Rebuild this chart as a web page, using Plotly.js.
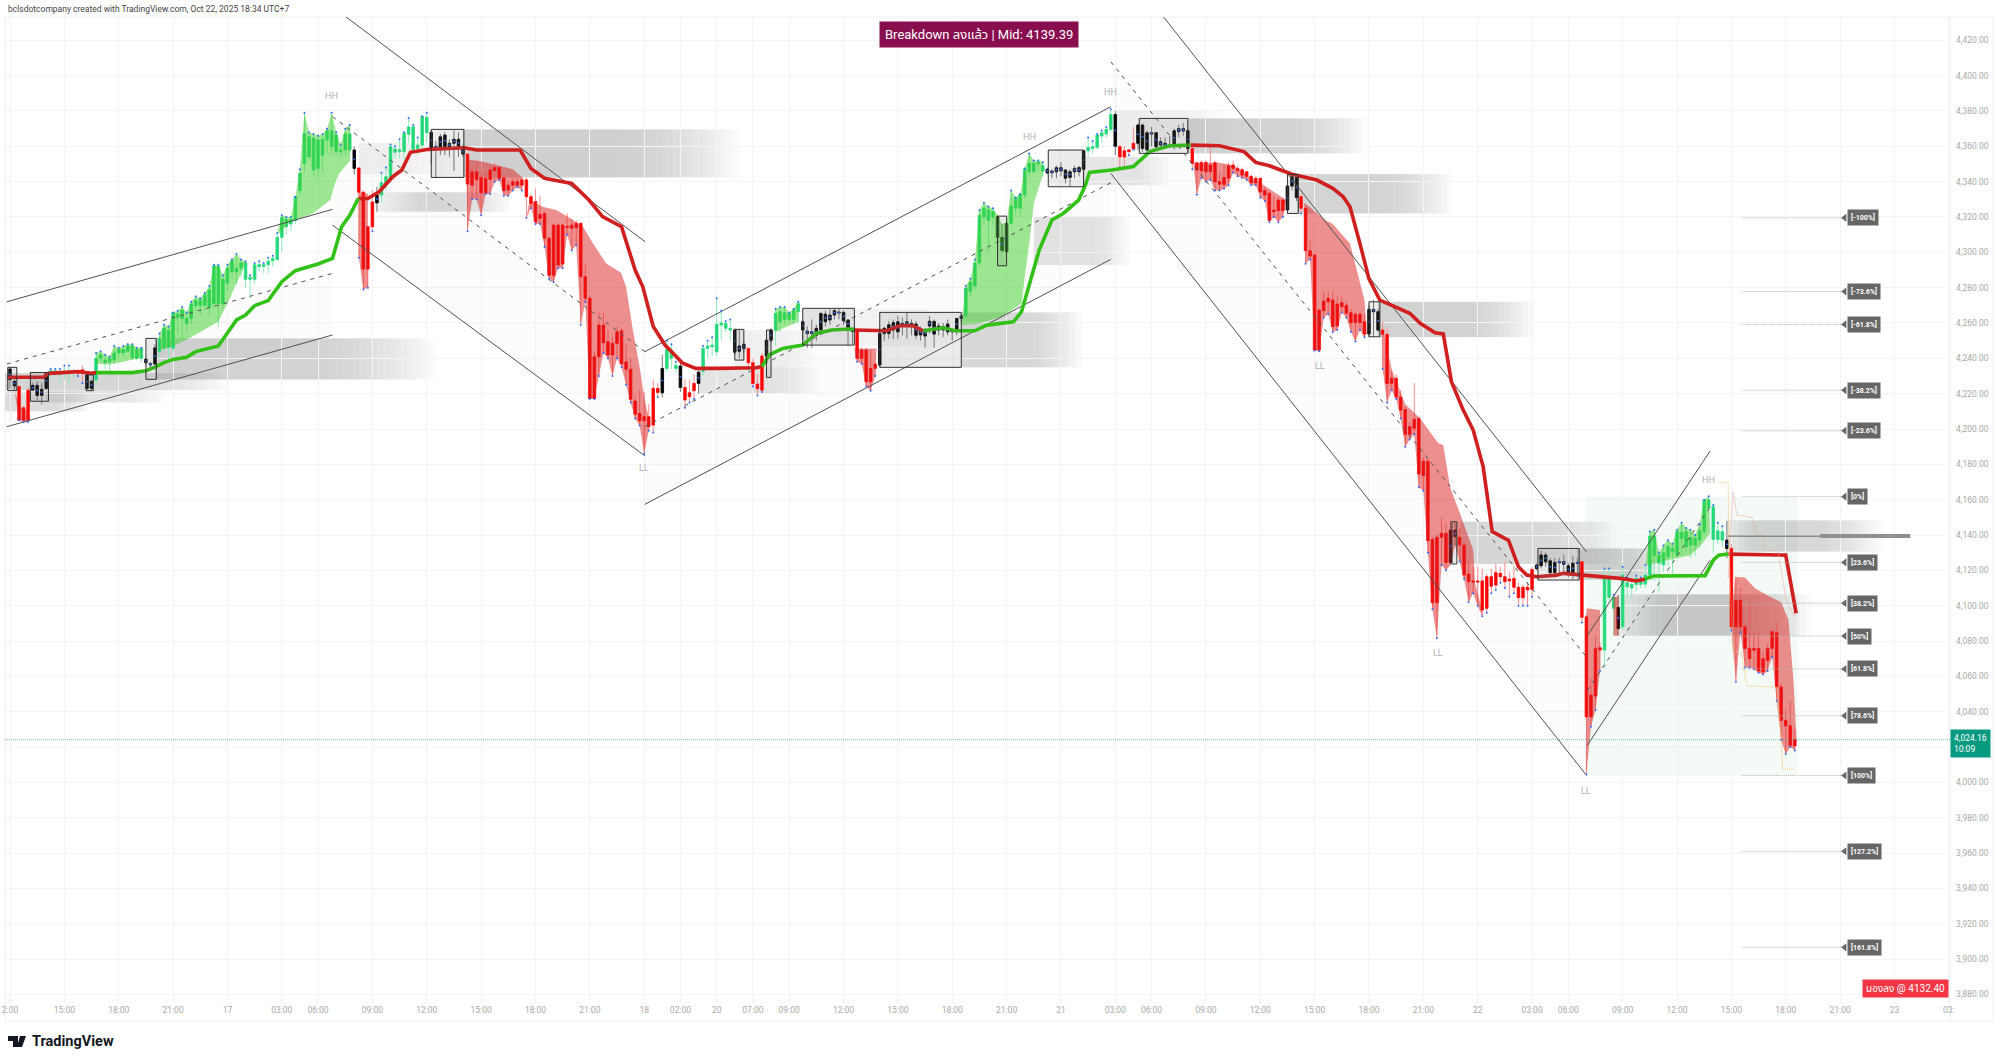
<!DOCTYPE html>
<html><head><meta charset="utf-8">
<script src="https://cdn.plot.ly/plotly-3.0.1.min.js"></script>
<style>html,body{margin:0;padding:0;background:#fff}#c{width:2000px;height:1060px}</style></head>
<body><div id="c"></div>
<script>
const g='g',r='r',k='k';
// rows: kind, body top, body bottom, high, low (15-minute bars)
const barsA=[[k,4234,4228,4235,4223],[k,4227,4224.4,4230,4222],[r,4224,4205,4224.5,4205],[r,4212,4205,4213,4204],[r,4222,4205,4223,4204],[k,4224.7,4222,4226,4222],[k,4224.7,4219,4227,4216],[k,4222.5,4219,4226,4214],[k,4231.5,4223,4232,4222],[g,4233,4232,4234,4228],
[g,4233,4232,4234,4230],[g,4232,4231,4234,4226],[g,4232.5,4232,4236,4228],[g,4232.5,4232,4236,4225],[g,4232.5,4232,4233,4229],[r,4233,4231.5,4233,4230],[r,4233.5,4231.5,4236,4226],[k,4230.7,4223,4231,4222],[k,4227,4223,4228,4221.5],[g,4240,4227.7,4243,4225],
[g,4241.9,4240,4244,4238],[g,4239,4237.6,4242,4234],[g,4240,4238,4241,4231],[g,4243,4239,4247,4237],[g,4245,4243,4246,4240],[g,4245,4243,4247,4241],[g,4247,4244,4248,4243],[g,4247,4240.6,4248,4239],[g,4245,4240,4246,4239],[g,4245.5,4240,4246,4238],
[k,4239.5,4237.6,4240,4236],[k,4237,4236.4,4238,4234],[k,4245.9,4236.8,4248,4235],[g,4251.3,4243.8,4254,4240],[g,4257,4245.7,4259,4243],[g,4255.7,4246.2,4258,4238],[g,4265.8,4245.7,4266,4244],[g,4265,4263,4267,4254],[g,4267.3,4262.6,4269,4251],[g,4262.6,4259.8,4266,4255],
[g,4270.8,4262.6,4272,4259],[g,4272.6,4269.8,4275,4267],[g,4273,4269.8,4274,4264],[g,4275.9,4270,4277,4267],[g,4278.7,4269,4281,4264],[g,4292.3,4271,4293,4268],[g,4292,4271.1,4293,4258],[g,4284.7,4271,4287,4268],[g,4291,4282.5,4293,4278],[g,4295.3,4289,4296,4285]];
const barsB=[[g,4291,4289,4299,4282],[g,4294,4291,4296,4286],[g,4294,4284.7,4295,4280],[g,4285.9,4284.7,4287,4274],[g,4293,4284.7,4294,4282],[g,4293,4292,4295,4289],[g,4293,4292,4294,4288],[g,4295,4293,4297,4288],[g,4296.6,4295.3,4298,4292],[g,4308.5,4296,4311,4295],
[g,4319.8,4308.5,4321,4300],[g,4318.6,4314.5,4320,4310],[g,4318.6,4316,4320,4312],[g,4331.5,4317.9,4331.5,4316],[g,4344.7,4334.9,4347,4333],[g,4367.3,4350.3,4379,4345],[g,4365.4,4354,4368,4352],[g,4364.5,4346.6,4367,4343],[g,4363.6,4347.5,4366,4342],[g,4364,4355,4367,4345],
[g,4368.8,4363.6,4370,4356],[g,4368.8,4359.8,4379,4355],[g,4366.4,4357,4368,4355],[g,4358,4357,4361,4354],[g,4367,4358,4370,4355],[g,4367,4358,4372,4356],[k,4357.9,4347.5,4360,4344],[r,4347.7,4334,4348,4297],[r,4334,4290.5,4335,4279],[r,4314.5,4290.5,4315,4280],
[r,4328.5,4314.5,4335,4312],[k,4332.4,4328,4337,4323],[g,4339.4,4332.4,4345,4328],[g,4342.8,4339,4348,4335],[g,4359.8,4342.4,4361,4340],[g,4358.5,4356.6,4360,4353],[g,4358,4357,4364,4353],[g,4367.3,4357,4368,4352],[g,4371,4366.8,4376,4362],[g,4371,4358.3,4372,4356],
[g,4360.7,4358.8,4365,4355],[g,4376.8,4360.7,4377,4358],[g,4376.4,4367.7,4379,4362],[k,4367.9,4358.8,4369,4350],[k,4360,4359.4,4363,4342],[k,4365.4,4359.8,4367,4355],[k,4366.4,4359.8,4368,4355],[k,4361.7,4359.8,4364,4354],[k,4364,4361.7,4369,4346],[k,4364,4359.8,4368,4354]];
const barsC=[[k,4358.3,4355.6,4361,4354],[r,4355.6,4338.7,4356,4312],[r,4345.6,4338,4349,4330],[r,4345.6,4341,4352,4330],[r,4342.4,4333.7,4345,4321],[r,4341.9,4333.7,4345,4333],[r,4346.6,4341.3,4349,4333],[r,4348,4346.2,4351,4340],[r,4348,4341.9,4349,4341],[r,4342.2,4334.9,4343,4332],
[r,4338,4335.3,4340,4332],[r,4340,4338,4342,4335],[r,4340,4338,4342,4337],[r,4341,4338,4343,4335],[r,4341,4331.5,4342,4319.6],[r,4331.5,4327.7,4333,4325],[r,4328.7,4317.3,4336,4316],[r,4321.5,4319.2,4332,4316],[r,4322,4308,4323,4303],[r,4308,4287,4309,4285],
[r,4315.4,4287,4316,4283],[r,4315.4,4292.8,4316,4291],[r,4315.4,4293.4,4316,4291],[r,4314.7,4314,4322,4310],[r,4315.4,4313.6,4319,4301],[r,4316.4,4313.9,4318,4304],[r,4316.4,4286.2,4317,4259],[r,4286.2,4274,4294,4272],[r,4274,4217.3,4276,4217],[r,4240.9,4217.3,4244,4217],
[r,4258.8,4240.9,4266,4230],[r,4258.8,4248.8,4266,4243],[r,4249.4,4241.9,4256,4240],[r,4248.5,4241.9,4252,4230],[r,4255,4248.5,4258,4240],[r,4255.6,4237,4257,4235],[r,4238,4233.8,4248,4225],[r,4233.8,4216.8,4240,4215],[r,4215.8,4208.4,4219,4206],[r,4208.8,4204.7,4222,4202],
[r,4207,4204.7,4221,4186],[r,4207,4201.3,4214,4199],[r,4223,4202.2,4228,4198],[r,4223,4220.7,4226,4218],[k,4234.3,4220.5,4242,4218],[g,4245,4234.3,4250,4232],[g,4244.7,4240,4248,4234],[g,4236,4234.3,4238,4232],[k,4235.6,4223.5,4238,4221],[r,4223.5,4216.4,4228,4212]];
const barsD=[[r,4220.5,4218.3,4228,4215],[r,4225.8,4221.7,4231,4217],[k,4232.2,4225.8,4233,4220],[g,4245.6,4232.6,4247,4230],[g,4247,4245.6,4250,4240],[g,4247.5,4246.6,4252,4241],[g,4259.2,4243.7,4274,4241],[g,4260,4258.8,4267,4250],[g,4259.8,4257,4261,4255],[g,4257,4256,4262,4250],
[k,4256,4243.5,4257,4242],[k,4247,4244,4256,4240],[k,4247.9,4245.6,4249,4243],[r,4245.6,4237.5,4246,4234],[r,4237.5,4225.8,4240,4224],[r,4225.4,4222.8,4231,4219],[r,4241.3,4222,4243,4221],[k,4250.3,4241.3,4251,4230],[k,4256,4250.3,4257,4249],[g,4265.4,4256,4268,4247],
[g,4266.4,4260.7,4269,4255],[g,4265.8,4262,4269,4259],[g,4265.4,4262,4266,4260],[g,4267.3,4262,4268,4259],[g,4271,4266.4,4272,4260],[k,4260.7,4256,4262,4250],[k,4255.4,4254,4258,4246],[k,4255,4254,4262,4246],[k,4257,4253,4259,4250],[k,4265.4,4256,4266,4254],
[k,4265,4260.7,4267,4258],[k,4264.5,4261.7,4268,4259],[k,4267,4264.5,4268,4262],[k,4266.2,4265.8,4268,4262],[k,4266,4261.3,4267,4259],[k,4261.7,4257.5,4262,4247],[k,4256.4,4255.2,4257,4248],[r,4255.4,4240,4256,4238],[r,4244.7,4240,4246,4237],[r,4244.7,4226.8,4246,4224],
[r,4234.3,4226.8,4245,4221.7],[r,4236.6,4234.3,4238,4230],[k,4254,4236.2,4255,4235],[k,4257,4254,4258,4250],[k,4259,4254,4261,4251],[k,4260.2,4256,4262,4251],[k,4260.7,4255,4264,4251],[k,4259.8,4258.5,4263,4253],[k,4260.7,4258.8,4266,4251],[k,4259.8,4258.6,4262,4253]];
const barsE=[[k,4259.4,4253,4261,4251],[k,4256.4,4253.2,4258,4250],[k,4256,4252.6,4257,4246],[k,4261,4258.3,4264,4254],[k,4260.9,4253.7,4262,4246],[k,4258.3,4256,4260,4253],[k,4258,4256,4260,4252],[k,4259.4,4255,4262,4253],[k,4256,4255,4257,4250],[k,4262.6,4256,4263,4253],
[k,4264,4262.6,4265,4260],[g,4279.6,4264,4281,4262],[g,4283,4278,4285,4275],[g,4294,4281,4296,4279],[g,4321,4294,4324,4292],[g,4325,4320,4328,4316],[g,4324,4318,4326,4300],[g,4323,4320,4325,4315],[k,4320.1,4308.5,4321,4298],[k,4308.5,4301,4316,4300],
[k,4316.4,4300.4,4317,4299],[g,4326.2,4316.4,4335,4315],[g,4330.5,4325,4331,4320],[g,4332.8,4325,4333,4320],[g,4347,4332.4,4347.5,4330],[g,4350.4,4345.6,4356,4342],[g,4350.4,4345.6,4352,4344],[g,4351,4350,4352,4345],[g,4349,4346,4351,4343],[k,4347,4345,4348,4344],
[k,4346,4345,4347,4342],[k,4347.9,4345.6,4349,4342],[k,4347.9,4346.2,4351,4343],[k,4346.6,4341.9,4347,4339],[k,4345.6,4342.4,4347,4337],[k,4347.5,4345.6,4349,4342],[k,4348,4345.6,4349,4343],[k,4357.5,4347,4358,4340],[g,4359.4,4357.5,4365,4354],[g,4359.8,4358.8,4363,4356],
[g,4366.4,4359.4,4367,4358],[g,4367.7,4365.8,4369,4362],[g,4369.6,4367,4371,4365],[g,4378,4369.6,4381,4368],[k,4378,4360,4380,4355],[r,4359.8,4354,4361,4348],[r,4357.5,4354,4360,4348],[r,4358,4357,4358,4355],[r,4361.7,4358.5,4371,4358],[k,4372,4361.7,4373,4358]];
const barsF=[[k,4372,4358.8,4373,4357],[k,4367.7,4358,4369,4356],[k,4367.7,4367,4371,4360],[k,4367.7,4359.8,4368,4358],[k,4362.6,4360.7,4365,4359],[k,4361.7,4360,4365,4359],[k,4360.7,4360,4366,4359],[k,4368.8,4360.7,4370,4358],[k,4370,4368.3,4372,4365],[k,4370,4368.7,4373,4366],
[k,4368.8,4358.8,4370,4356],[r,4358.8,4350.3,4360,4347],[r,4350.7,4346.6,4351,4332.6],[r,4350.9,4346.2,4352,4342],[r,4350.9,4345.6,4352,4340],[r,4349.4,4345.6,4360,4341],[r,4350.7,4340,4352,4335],[r,4340,4338.5,4345,4335],[r,4342.4,4338.5,4350,4336],[r,4349,4342,4351,4338],
[r,4349.4,4347.5,4352,4345],[r,4347.5,4346.2,4349,4343],[r,4346.8,4343.7,4348,4342],[r,4345.6,4343,4346,4341],[r,4343,4339.4,4344,4338],[r,4341.9,4339.4,4343,4338],[r,4341.9,4334.3,4342,4331],[r,4335,4332.4,4337,4329],[r,4333.4,4318,4334,4317],[r,4323.9,4323,4332,4320],
[r,4329.6,4323.6,4331,4317],[r,4329.6,4323.6,4331,4320],[k,4337.5,4324,4338,4322],[k,4342.8,4337.5,4344,4335],[k,4342.4,4331,4343,4329],[r,4331.5,4324.9,4333,4322],[r,4324.9,4300.9,4326,4293.5],[r,4300.9,4297.9,4307,4296],[r,4298.5,4244.7,4299,4244.5],[r,4267.3,4244.7,4268,4244],
[r,4272.4,4267,4278,4263],[r,4274,4272,4278,4265],[r,4273,4258,4278,4254.7],[r,4270.7,4258.3,4275,4256],[r,4271.5,4269.2,4275,4266],[r,4270,4265.5,4272,4263],[r,4265.8,4260.2,4268,4255],[r,4264.9,4260.2,4266,4249.5],[r,4264.9,4260.2,4266,4256],[r,4260.7,4253.8,4265,4252]];
const barsG=[[k,4267.7,4253.8,4270,4252],[k,4267.7,4266.4,4273,4252],[k,4266.4,4256,4268,4255],[r,4256,4253.6,4261,4234],[r,4253.6,4225.8,4258,4215],[r,4228.7,4225.8,4233,4222],[r,4228.7,4218,4231,4217],[r,4218,4210.7,4222,4206],[r,4211,4197,4213,4190],[r,4201.3,4197,4204,4194],
[r,4205.5,4200.4,4226,4197],[r,4206,4174.5,4207,4167],[r,4181.7,4173.6,4184,4165],[r,4181.7,4136.8,4183,4130],[r,4137.5,4101.7,4139,4098],[r,4138.7,4101.7,4140,4081.5],[r,4141,4138.7,4150,4123],[r,4141,4124.5,4147,4120],[k,4142.8,4124.5,4148,4123],[k,4142.8,4139,4147,4134],
[r,4138.7,4134.3,4144,4125],[r,4134.3,4117.3,4136,4115],[r,4117.9,4113.6,4125,4102],[r,4114,4113.4,4122,4107],[r,4114,4113.4,4122,4100],[r,4114,4097.5,4121,4094],[r,4116.4,4098.5,4118,4096],[r,4116.4,4111,4121,4107],[r,4118.7,4111.7,4124,4109],[r,4118.3,4116.4,4122,4113],
[r,4116.4,4113.6,4125,4110],[r,4115,4114,4119,4105],[r,4115.4,4110.4,4123,4107],[r,4110.4,4104.5,4113,4100],[r,4110.4,4104.5,4112,4100],[r,4110.4,4108.9,4113,4100],[r,4120.5,4109.2,4122,4105],[k,4123,4121,4124,4120],[k,4128.7,4122.6,4131,4121],[k,4128.7,4124.9,4130,4122],
[k,4125.4,4118.7,4127,4117],[k,4124.5,4118.7,4127,4116],[k,4124.9,4124.5,4127,4118],[k,4124.9,4123.4,4129,4119],[k,4122.6,4118.3,4124,4116],[k,4124,4118.3,4128,4115],[k,4124.5,4124,4127,4118],[r,4124.9,4093.4,4125,4090.5],[r,4093.7,4037.1,4095,4004.5],[r,4049.4,4037.1,4059,4031.5]];
const barsH=[[r,4075.8,4048.8,4083,4041],[r,4076.2,4074.9,4079,4063],[g,4116.4,4074.9,4121,4065],[g,4115.8,4104.7,4121,4101],[g,4104.7,4098.5,4106,4083],[k,4099,4087,4106,4083],[g,4117.3,4088,4122,4086],[g,4113,4110.7,4116,4104],[g,4112,4110,4114,4104],[g,4115.4,4112,4117,4108],
[g,4113.5,4112,4116,4110],[g,4117.3,4112.2,4123,4110],[g,4139.4,4117.3,4142,4116],[g,4139.4,4128.6,4143,4114],[g,4128.6,4124,4130,4108],[g,4130,4123,4134,4119],[g,4133.4,4127.7,4137,4122],[g,4132.4,4130.5,4135,4118],[g,4141.9,4128.6,4143,4127],[g,4141.5,4138,4147,4128],
[g,4141.9,4133.4,4144,4130],[g,4138.6,4134.3,4143,4127],[g,4138,4134.3,4140,4128],[g,4142.4,4137.1,4146,4134],[g,4159.8,4141.9,4160,4140],[g,4159.8,4155.6,4162,4152],[g,4156,4137.5,4157,4130],[g,4142.4,4137.5,4147,4135],[g,4141.9,4137.1,4145,4133],[k,4137.1,4132.4,4148,4127],
[r,4132.4,4088,4135,4086],[r,4103,4088,4115,4057],[r,4103,4088,4110,4085],[r,4088,4075.8,4090,4065],[r,4075.8,4070,4102,4065],[r,4075.8,4074.8,4084,4064],[r,4075.8,4063,4086,4062],[r,4070,4062.6,4074,4061],[r,4075.8,4069,4078,4063],[r,4085.3,4075.8,4087,4071],
[r,4084.7,4054,4091,4046],[r,4054,4035,4056,4024],[r,4035,4031.9,4041,4016],[r,4032,4021,4046,4020],[r,4024.16,4020.7,4030,4018]];

const trendRedA=[[-0.6,4229.3],[7.4,4229.3],[8.5,4231.5],[15,4232.5],[18,4231.5],[19,4231.9]];
const trendGreenA=[[19,4231.9],[27,4231.9],[30,4233],[32,4235],[34,4237.6],[36,4239.4],[39,4240.6],[41,4243.8],[46,4247],[48,4254],[50,4261.7],[52,4264.5],[54,4269.8],[57,4272.7],[60,4283.4],[63,4289.6],[68,4293.4],[71.2,4296.6],[73.2,4314.5],[75,4321],[76.9,4330.5]];
const trendRedB=[[76.9,4330.5],[79,4330.5],[81.5,4334.3],[84.5,4342.8],[86.5,4346.6],[88.4,4356.6],[92.4,4358.3],[100.3,4359.2],[103,4357.9],[112.6,4357.9],[115,4347.5],[118,4341.9],[124,4339],[127.8,4329.6],[130.8,4320.2],[135,4314.5],[138,4290],[139.7,4280.5],[142,4258],[144.6,4247.5],[148.5,4237.2],[151.4,4234.3],[156,4234.3],[164.7,4234.7],[166,4235.3]];
const trendGreenB=[[166,4235.3],[167.6,4241.9],[170.6,4245.6],[175,4247.5],[178,4254.1],[181.4,4256],[185.4,4256.6],[186.4,4256.4]];
const trendRedC=[[186.4,4256],[193.5,4255.6],[196.5,4258.4],[199.4,4258.4],[201.6,4255.6]];
const trendGreenC=[[201.6,4255.6],[206,4257.3],[208.6,4255.6],[213,4255.6],[215.6,4258.8],[221.5,4260.7],[223.3,4266.4],[225.3,4284.3],[227.2,4301.3],[230,4318.3],[232.5,4322],[235.9,4329.6],[237.4,4338],[238.3,4345.2],[243.2,4346.6],[248,4348.5],[251.6,4357],[256,4360.3],[260.6,4360.7]];
const trendRedD=[[260.6,4360.7],[267,4360.3],[272.4,4357],[275,4350.9],[278,4349],[283,4344.2],[288.5,4340.9],[292,4336.2],[294.3,4331.5],[295.8,4325.8],[298,4305],[300,4285],[302.4,4273],[309,4265.5],[311.3,4259.8],[314.6,4254.5],[316.4,4253.8],[318.2,4226.8],[320.8,4210.7],[323,4199.4],[325.2,4178.7],[327.2,4141.9],[330.8,4137],[333,4122],[334.8,4117.3],[337,4116.4],[341.4,4117.3],[342.9,4118.3],[347.3,4117.3],[352,4116.4],[356,4115.3],[359,4114],[360.9,4115]];
const trendGreenD=[[360.9,4115],[362.8,4116.8],[374.2,4117],[376,4125.8],[377.2,4128.6],[379.3,4129.2]];
const trendRedE=[[379.3,4129.2],[392,4128.6],[394.3,4095.6]];

const ribbonGreen=[[19,29,[[19,4237],[22,4236.5],[25,4238],[29,4240.5]]],
 [33,52,[[33,4244.7],[36,4247],[40,4252],[46,4260.8],[48,4271],[51,4288],[52,4294]]],
 [59,75,[[59.4,4310.8],[61.8,4317],[66.8,4322],[70.7,4329.6],[71.7,4339],[72.7,4344.7],[75.1,4352]]],
 [169,174,[[169,4255],[174,4260.7]]],
 [211,228,[[210,4258.8],[213.9,4259.7],[218.9,4263.6],[223.3,4271],[224,4286],[225,4305],[226,4327.7],[228,4343.7]]],
 [361,375,[[361.7,4123],[366,4125.8],[370.9,4128.6],[373,4133.4],[375.3,4141]]]];
const ribbonRed=[[1,4,[[1,4222],[2,4213],[3,4211],[4,4210]]],
 [77,79,[[77,4334],[78,4334],[79,4333]]],
 [101,113,[[100.7,4352.6],[103.7,4351.7],[107.4,4349.4],[111,4347],[113.2,4341.9]]],
 [114,141,[[114.7,4329.6],[117.6,4325.8],[120.6,4323.9],[124.3,4318.3],[126.5,4314.5],[128.7,4305],[131.6,4293.7],[134.9,4288.5],[136,4280.5],[137.5,4256],[139,4235],[140.1,4216.4],[141.2,4205]]],
 [187,191,[[186.4,4245.6],[191.3,4245.6]]],
 [262,281,[[261.2,4350.3],[266.4,4350.9],[270,4349.4],[273,4343.7],[277.4,4337],[281.7,4329.6]]],
 [286,299,[[285.7,4328],[290.5,4318],[292,4316],[295.8,4305],[299,4273],[299.5,4254]]],
 [303,325,[[303,4258],[305,4234],[308,4214],[311.3,4206],[315.3,4192],[316.4,4191],[317.9,4167],[320.1,4152],[323,4131.5],[323.4,4113],[325,4097]]],
 [348,351,[[348,4098.5],[351,4097.5]]],
 [354,355,[[354,4105],[355,4105]]],
 [380,394,[[380.8,4116.4],[383,4116],[385.2,4109.8],[388.5,4105],[391,4102],[392.6,4091.9],[393.7,4057.9],[394.4,4024]]]];

const channelX=[[-0.7,71.2],[71.2,140.2],[140.1,243],[243,348],[348.2,375.3]];
const channelUpper=[[4272,4324.3],[4439,4306],[4243.7,4382.4],[4471,4130.5],[4083,4187.5]];
const channelMid=[[4236.8,4288.1],[4376.8,4243.7],[4201.3,4339.4],[4407.9,4071],[4052,4156]];
const channelLower=[[4201.3,4253.2],[4315.4,4184.7],[4157.3,4296],[4344.7,4004],[4021,4125.7]];

const boxStart=[-0.5,4.5,16.8,30,93,160,167,175,192,218,229.2,249.3,282,300,318.3,337.3];
const boxEnd=[1.5,8.5,18.4,32.3,100.2,162,168,186.4,210,220,237,260,284.4,302.4,319.4,346.4];
const boxTop=[4234.9,4232,4230.6,4251.3,4369.6,4256.4,4256,4268.3,4266,4320.5,4357.9,4375.8,4344.1,4272,4147.5,4132.4];
const boxBottom=[4221.7,4215.7,4221.7,4228.1,4342.4,4239,4229.2,4247.5,4234.9,4292.4,4337.1,4356,4322,4252.2,4123.6,4114.5];

// start, end, top, bottom, strength, fade-in share
const zones=[[32,95,4251.3,4228,.36,0],[-1,49,4231.7,4222,.3,0],[8,35,4222,4215,.2,0],[-1,18,4221,4210,.25,0],[100,162,4369.6,4342.4,.38,0],[81,111,4334,4323,.3,.3],[77,96,4362,4344,.12,0],[152,179,4235,4220,.22,0],[160,178,4256,4235,.12,0],[175,210,4268,4247,.08,0],[210,237,4266,4234.9,.32,0],[226,248,4320.5,4292.8,.22,0],[244,269,4380.5,4359,.12,0],[260,300,4375.8,4356,.36,0],[284,319,4344.3,4322,.34,0],[237,256,4354,4338,.2,0],[302,337,4272,4252,.36,0],[320,355,4147.5,4123.6,.3,0],[346,365,4132.4,4114.7,.36,0],[354,398,4106.4,4083,.42,.25],[379,414,4148.3,4130.6,.32,.15]];

const fibPercent=['-100','-73.6','-61.8','-38.2','-23.6','0','23.6','38.2','50','61.8','78.6','100','127.2','161.8'];
const fibPrice=[4319.5,4277.8,4259.2,4222,4199,4161.7,4124.5,4101.4,4082.8,4064.2,4037.7,4003.9,3961,3906.6];
const tagText=['HH','LL','HH','HH','LL','LL','LL','HH'];
const tagX=[71,140,225.1,243,289.2,315.2,348,375];
const tagPrice=[4388.6,4177.8,4365.4,4390.9,4235.6,4073,3995,4171];
const orangeX=[377.1,379.3,379.4,380.4,382.2,383.4,390,391,391.3,394];
const orangeP=[4169.8,4169.8,4133,4074,4073.5,4054.5,4054,4025.8,4007.5,4007.5];
const pinkX=[379.3,380.4,381.2,384.5,385.5,386.7,387.4,390.3,392.2,394.3];
const pinkP=[4116,4164.5,4151.3,4150,4140,4140,4131.5,4131.1,4101.3,4092.8];
const tickIndex=[0,12,24,36,48,60,68,80,92,104,116,128,140,148,156,164,172,184,196,208,220,232,244,252,264,276,288,300,312,324,336,344,356,368,380,392,404,416,428];
const tickLabel=['2:00','15:00','18:00','21:00','17','03:00','06:00','09:00','12:00','15:00','18:00','21:00','18','02:00','20','07:00','09:00','12:00','15:00','18:00','21:00','21','03:00','06:00','09:00','12:00','15:00','18:00','21:00','22','03:00','06:00','09:00','12:00','15:00','18:00','21:00','23','03:'];
const hiddenTick=4020; // the last-price tag covers this label
const priceTicks=[];for(let p=3880;p<=4420;p+=20)if(p!==hiddenTick)priceTicks.push(p);
const lastPrice=4024.16, midPrice=4139.39;

const bars=[...barsA,...barsB,...barsC,...barsD,...barsE,...barsF,...barsG,...barsH];
const idx=bars.map((_,i)=>i);
const kind=bars.map(b=>b[0]);
const openV=bars.map(b=>b[0]===g?b[2]:b[1]);
const closeV=bars.map(b=>b[0]===g?b[1]:b[2]);
const highV=bars.map(b=>b[3]);
const lowV=bars.map(b=>b[4]);
const xMin=-1.104,xMax=428.26;
const px=i=>(i-5)/1945, py=y=>(1003-y)/986;
const iToPx=i=>5+(i-xMin)/(xMax-xMin)*1945, pxToI=p=>xMin+(p-5)/1945*(xMax-xMin);
const traces=[];
channelX.forEach((x,c)=>traces.push({type:'scatter',mode:'none',x:[x[0],x[1],x[1],x[0]],y:[channelMid[c][0],channelMid[c][1],channelLower[c][1],channelLower[c][0]],fill:'toself',fillcolor:'rgba(0,0,0,0.013)',hoverinfo:'skip'}));
function ribbon(seg,edge,col){const xs=[],ys=[];for(let i=seg[0];i<=seg[1];i++){xs.push(i);ys.push(edge[i]);}
 for(let j=seg[2].length-1;j>=0;j--){xs.push(seg[2][j][0]);ys.push(seg[2][j][1]);}
 traces.push({type:'scatter',mode:'none',x:xs,y:ys,fill:'toself',fillcolor:col,hoverinfo:'skip'});}
ribbonGreen.forEach(s=>ribbon(s,highV,'rgba(60,208,40,0.5)'));
ribbonRed.forEach(s=>ribbon(s,lowV,'rgba(222,32,32,0.5)'));
channelX.forEach((x,c)=>{
 [channelUpper[c],channelLower[c]].forEach(y=>traces.push({type:'scatter',mode:'lines',x,y,line:{color:'#505050',width:1},hoverinfo:'skip'}));
 traces.push({type:'scatter',mode:'lines',x,y:channelMid[c],line:{color:'#505050',width:1,dash:'4px,5px'},hoverinfo:'skip'});
});
const palette={g:['#8eeab8','#24d97c'],r:['#fa8f8f','#ff0000'],k:['#777777','#000000']};
[g,r,k].forEach(K=>{
 const pick=a=>a.map((v,i)=>kind[i]===K?v:null);
 const [wick,body]=palette[K];
 traces.push({type:'candlestick',x:idx,open:pick(openV),close:pick(closeV),high:pick(highV),low:pick(lowV),
  increasing:{line:{color:wick,width:1},fillcolor:'rgba(0,0,0,0)'},decreasing:{line:{color:wick,width:1},fillcolor:'rgba(0,0,0,0)'},hoverinfo:'skip'});
 const hb=openV.map((o,i)=>Math.max(o,closeV[i])), lb=openV.map((o,i)=>Math.min(o,closeV[i]));
 traces.push({type:'candlestick',x:idx,open:pick(openV),close:pick(closeV),high:pick(hb),low:pick(lb),
  increasing:{line:{color:body,width:0.6},fillcolor:body},decreasing:{line:{color:body,width:0.6},fillcolor:body},hoverinfo:'skip'});
});
traces.push({type:'scatter',mode:'markers',x:idx,y:bars.map((b,i)=>b[0]===g?highV[i]:b[0]===r?lowV[i]:(openV[i]+closeV[i])/2),marker:{color:'#2f6bff',size:2},hoverinfo:'skip'});
[trendRedA,trendRedB,trendRedC,trendRedD,trendRedE].forEach(s=>traces.push({type:'scatter',mode:'lines',x:s.map(p=>p[0]),y:s.map(p=>p[1]),line:{color:'#cf1f1f',width:3.6},hoverinfo:'skip'}));
[trendGreenA,trendGreenB,trendGreenC,trendGreenD].forEach(s=>traces.push({type:'scatter',mode:'lines',x:s.map(p=>p[0]),y:s.map(p=>p[1]),line:{color:'#32c116',width:3.6},hoverinfo:'skip'}));
traces.push({type:'scatter',mode:'lines',x:orangeX,y:orangeP,line:{color:'#f7bf70',width:1,dash:'1px,1px'},hoverinfo:'skip'});
traces.push({type:'scatter',mode:'lines',x:pinkX,y:pinkP,line:{color:'#eba5a5',width:1,dash:'1px,1px'},hoverinfo:'skip'});
traces.push({type:'scatter',mode:'lines',x:[379.3,399.6],y:[midPrice,midPrice],line:{color:'#555',width:1},hoverinfo:'skip'});
traces.push({type:'scatter',mode:'lines',x:[399.6,419.5],y:[midPrice,midPrice],line:{color:'#8f8f8f',width:4},hoverinfo:'skip'});
fibPrice.forEach(p=>traces.push({type:'scatter',mode:'lines',x:[382.3,404.6],y:[p,p],line:{color:'#b0b0b0',width:1,dash:'1px,1px'},hoverinfo:'skip'}));
traces.push({type:'scatter',mode:'markers',x:fibPrice.map(()=>405),y:fibPrice,marker:{symbol:'triangle-left',size:7,color:'#666'},hoverinfo:'skip'});

const shapes=[];
shapes.push({type:'rect',xref:'x',yref:'y',x0:348,x1:394.6,y0:4003.7,y1:4161.7,fillcolor:'rgba(76,175,80,0.06)',line:{width:0},layer:'below'});
shapes.push({type:'line',xref:'paper',yref:'y',x0:0,x1:1,y0:hiddenTick,y1:hiddenTick,line:{color:'#f4f4f4',width:1},layer:'below'});
zones.forEach(z=>{const a0=Math.round(iToPx(z[0])),a1=Math.round(iToPx(z[1]));
 for(let p=a0;p<a1;p+=6){const e=Math.min(a1,p+6),t=Math.min(1,(p+3-a0)/(a1-a0));let a=z[4];
  if(z[5]&&t<z[5])a*=t/z[5]*.7+.3;
  if(t>.55)a*=1-Math.pow((t-.55)/.45,1.6);
  if(a<=0.004)continue;
  shapes.push({type:'rect',xref:'x',yref:'y',x0:pxToI(p),x1:pxToI(e),y0:z[3],y1:z[2],fillcolor:`rgba(130,130,130,${a.toFixed(3)})`,line:{width:0},layer:'below'});}
});
boxStart.forEach((b,i)=>shapes.push({type:'rect',xref:'x',yref:'y',x0:b,x1:boxEnd[i],y0:boxBottom[i],y1:boxTop[i],fillcolor:'rgba(110,110,110,0.14)',line:{color:'#333',width:1},layer:'above'}));
shapes.push({type:'line',xref:'paper',yref:'y',x0:0,x1:1,y0:lastPrice,y1:lastPrice,line:{color:'rgba(8,153,129,0.55)',width:1,dash:'1px,1px'},layer:'above'});
shapes.push({type:'rect',xref:'paper',yref:'paper',x0:0,x1:px(1993),y0:py(1021),y1:py(17),line:{color:'#eeeeee',width:1},layer:'below'});
shapes.push({type:'line',xref:'paper',yref:'paper',x0:px(1950),x1:px(1950),y0:py(1021),y1:py(17),line:{color:'#eeeeee',width:1},layer:'below'});
const P=(x,y)=>px(x).toFixed(5)+','+py(y).toFixed(5);
shapes.push({type:'path',xref:'paper',yref:'paper',path:`M${P(8,1036)} L${P(18,1036)} L${P(18,1047)} L${P(13,1047)} L${P(13,1041)} L${P(8,1041)} Z`,fillcolor:'#131722',line:{width:0}});
shapes.push({type:'path',xref:'paper',yref:'paper',path:`M${P(20,1036)} L${P(26,1036)} L${P(22,1047)} L${P(17,1047)} Z`,fillcolor:'#131722',line:{width:0}});

const ann=[];
const F='Roboto, "Noto Sans", "Noto Sans Thai", "Liberation Sans", sans-serif';
const A=(o)=>Object.assign({showarrow:false,xanchor:'center',yanchor:'middle'},o);
tagText.forEach((t,i)=>ann.push(A({xref:'x',yref:'y',x:tagX[i],y:tagPrice[i],text:t,font:{family:F,size:9,color:'#b0b0b0'}})));
fibPercent.forEach((t,i)=>ann.push(A({xref:'x',yref:'y',x:405.6,xanchor:'left',y:fibPrice[i],text:'<b>['+t+'%]</b>',bgcolor:'#666666',borderpad:3,font:{family:F,size:7,color:'#fff'}})));
ann.push(A({xref:'paper',yref:'paper',x:px(978.5),y:py(35),text:'Breakdown ลงแล้ว | Mid: 4139.39',bgcolor:'#880e4f',borderpad:5,font:{family:F,size:13,color:'#fff'}}));
ann.push(A({xref:'paper',yref:'paper',x:px(1905),y:py(988),text:'มองลง @ 4132.40',bgcolor:'#f23645',borderpad:3,font:{family:F,size:10,color:'#fff'}}));
ann.push(A({xref:'paper',yref:'paper',x:px(1971),y:py(743.5),text:'4,024.16<br>10:09',align:'left',bgcolor:'#089981',borderpad:3,font:{family:F,size:8.5,color:'#fff'}}));
ann.push(A({xref:'paper',yref:'paper',x:px(6),xanchor:'left',y:py(9),text:'bclsdotcompany created with TradingView.com, Oct 22, 2025 18:34 UTC+7',font:{family:F,size:8.5,color:'#444'}}));
ann.push(A({xref:'paper',yref:'paper',x:px(30),xanchor:'left',y:py(1041),text:'<b>TradingView</b>',font:{family:F,size:14.5,color:'#131722'}}));

Plotly.newPlot('c',traces,{
 width:2000,height:1060,autosize:false,showlegend:false,paper_bgcolor:'#fff',plot_bgcolor:'#fff',boxmode:'overlay',boxgap:0.22,
 margin:{l:5,r:50,t:17,b:57,pad:0},hovermode:false,
 xaxis:{type:'linear',range:[xMin,xMax],rangeslider:{visible:false},tickmode:'array',tickvals:tickIndex,ticktext:tickLabel,showgrid:true,gridcolor:'#f4f4f4',gridwidth:1,zeroline:false,showline:false,ticks:'',tickfont:{family:F,size:8.5,color:'#a8a8a8'},ticklen:0,automargin:false},
 yaxis:{side:'right',range:[3875.1,4433.2],tickmode:'array',tickvals:priceTicks,tickformat:',.2f',showgrid:true,gridcolor:'#f4f4f4',gridwidth:1,zeroline:false,showline:false,ticks:'',ticklabelstandoff:5,tickfont:{family:F,size:8.5,color:'#a8a8a8'},automargin:false},
 shapes,annotations:ann
},{staticPlot:true,displayModeBar:false});
</script></body></html>
